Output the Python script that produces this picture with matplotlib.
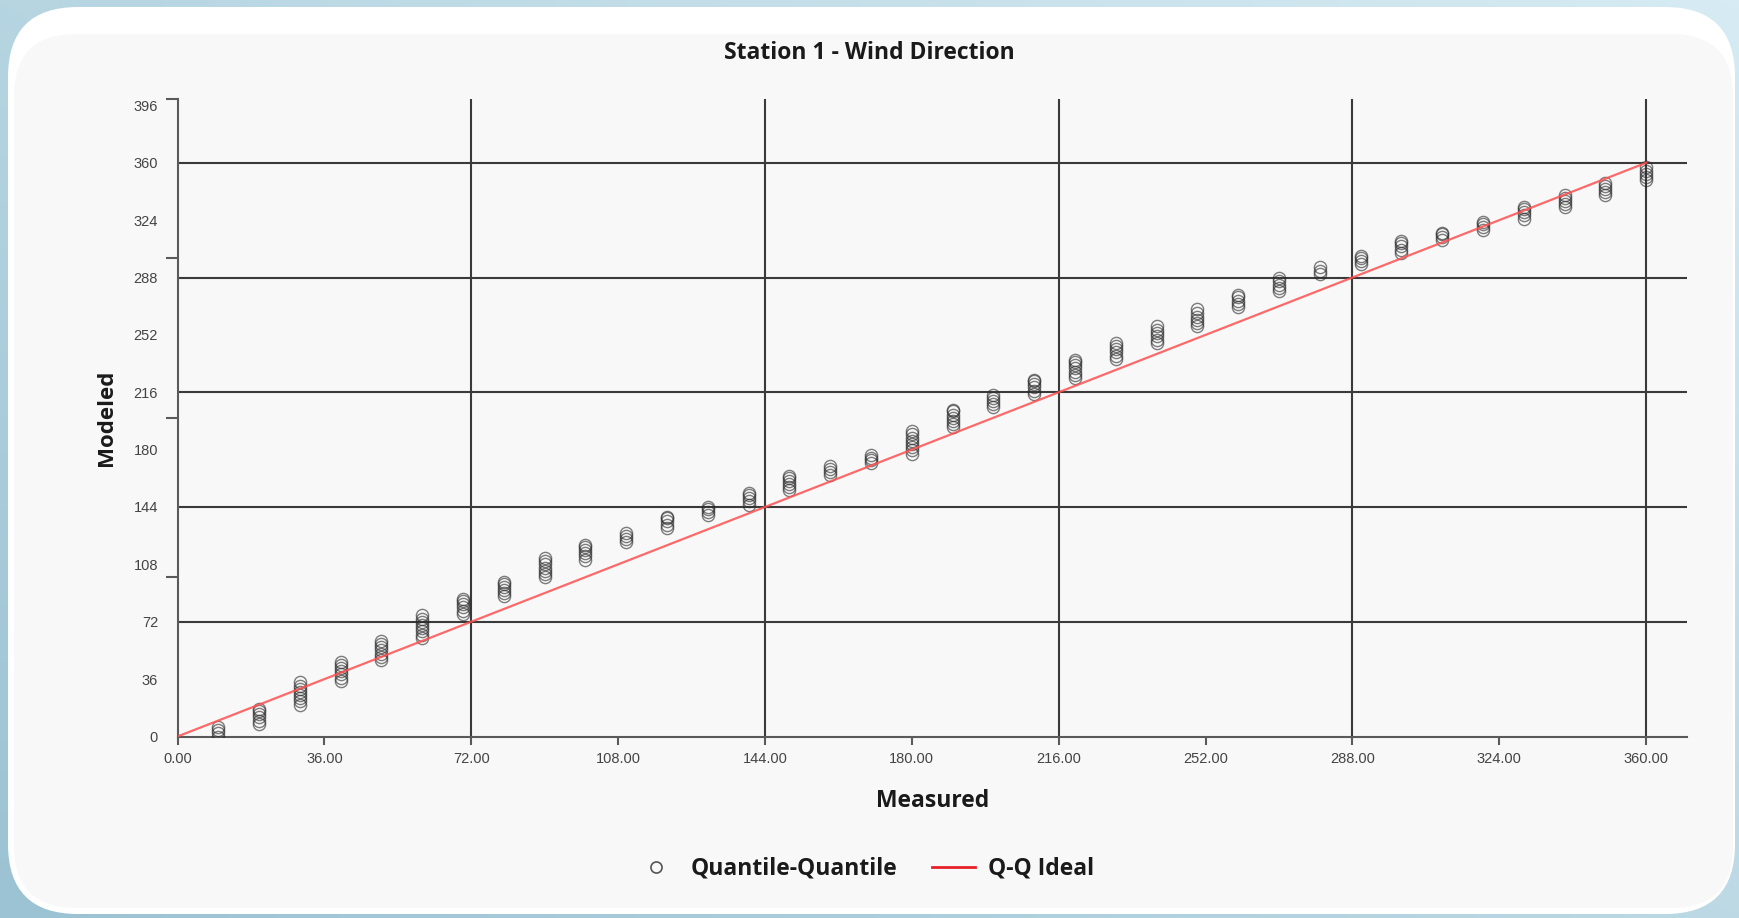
import numpy as np
import matplotlib.pyplot as plt
from matplotlib.patches import FancyBboxPatch
from matplotlib.lines import Line2D
from matplotlib.colors import LinearSegmentedColormap

# measured wind direction bins (deg) and the modeled quantiles that fall in each
measured_bins = [10, 20, 30, 40, 50, 60, 70, 80, 90, 100, 110, 120,
                 130, 140, 150, 160, 170, 180, 190, 200, 210, 220, 230, 240,
                 250, 260, 270, 280, 290, 300, 310, 320, 330, 340, 350, 360]
modeled_quantiles = [
    [0, 2, 4, 6],
    [8, 10, 12, 14, 16, 17.5],
    [20, 22, 24, 26, 28, 30, 32, 34],
    [35, 37, 39, 41, 43, 45, 47],
    [48, 50, 52, 54, 56, 58, 60],
    [62, 64, 66, 68, 70, 72, 74, 76],
    [77, 79, 81, 83, 85, 86],
    [88, 90, 92, 94, 96, 97],
    [100, 102, 104, 106, 108, 110, 112],
    [111, 113, 115, 117, 119, 120],
    [122, 124, 126, 128],
    [131, 133, 135, 137, 138],
    [139, 141, 143, 144],
    [145.5, 147.5, 149.5, 151.5, 153],
    [154.5, 156.5, 158.5, 160.5, 162.5, 163.5],
    [164, 166, 168, 170],
    [171.5, 173.5, 175, 176.5],
    [177.5, 179.5, 181.5, 183.5, 185.5, 187.5, 189.5, 192],
    [194, 196, 198, 200, 202, 204, 205],
    [206.5, 208.5, 210.5, 212.5, 214],
    [215, 217, 219, 221, 223, 224],
    [225, 227, 229, 231, 233, 235, 236.5],
    [237, 239, 241, 243, 245, 247],
    [247, 249, 251, 253, 255, 257.5],
    [257.5, 259.5, 261.5, 263.5, 265.5, 268],
    [269.5, 271.5, 273.5, 275.5, 277],
    [279.5, 281.5, 283.5, 285.5, 288],
    [290, 292, 294.5],
    [296.5, 298.5, 300, 301.5],
    [303.5, 305.5, 307.5, 309.5, 311],
    [311.5, 313.5, 315, 316],
    [317.5, 319.5, 321.5, 323],
    [325, 327, 329, 331, 332],
    [332, 334, 336, 338, 339.5],
    [339.5, 341.5, 343.5, 345.5, 347],
    [349, 351, 353, 355, 357.5],
]
ideal_x = [0, 360]
ideal_y = [0, 360]

x_ticks = list(range(0, 361, 36))
y_ticks = list(range(0, 397, 36))
y_marks = [0, 100, 200, 300, 400]
grid_vals = [72, 144, 216, 288, 360]

W, H = 1739, 918
fig = plt.figure(figsize=(W / 100, H / 100), dpi=100)

# backdrop: blue gradient with a rounded white card
bg = fig.add_axes([0, 0, 1, 1], zorder=-10)
bg.set_xlim(0, W)
bg.set_ylim(0, H)
bg.axis('off')
gx, gy = np.meshgrid(np.linspace(0, 1, 200), np.linspace(0, 1, 200))
shade = 0.55 * gx + 0.45 * (1 - gy)
cmap = LinearSegmentedColormap.from_list('sky', ['#9cc3d3', '#d6ebf3'])
bg.imshow(shade, extent=(0, W, 0, H), origin='upper', cmap=cmap, aspect='auto')
bg.add_patch(FancyBboxPatch((8, 4), W - 12, H - 11,
                            boxstyle="round,pad=0,rounding_size=70",
                            facecolor='white', edgecolor='none'))
bg.add_patch(FancyBboxPatch((14, 10), W - 20, H - 44,
                            boxstyle="round,pad=0,rounding_size=62",
                            facecolor='#f8f8f8', edgecolor='none'))

ax = fig.add_axes([177.5 / W, (H - 736.5) / H, 1509.5 / W, 637.5 / H])
ax.set_facecolor('none')
ax.set_xlim(0, 370)
ax.set_ylim(0, 400)

for v in grid_vals:
    ax.axvline(v, color='#3a3a3a', lw=1.5, zorder=1)
    ax.axhline(v, color='#3a3a3a', lw=1.5, zorder=1)

xs, ys = [], []
for m, qs in zip(measured_bins, modeled_quantiles):
    xs.extend([m] * len(qs))
    ys.extend(qs)
ax.plot(xs, ys, 'o', ls='none', mfc='none', mec='#2a2a2a', ms=8.8, mew=1.0,
        alpha=0.6, zorder=3)
ax.plot(ideal_x, ideal_y, color='#ff5050', lw=1.6, alpha=0.85, zorder=4)

for side in ('top', 'right'):
    ax.spines[side].set_visible(False)
for side in ('left', 'bottom'):
    ax.spines[side].set_color('#5a5a5a')
    ax.spines[side].set_linewidth(1.5)

ax.set_xticks(x_ticks)
ax.set_xticklabels([f"{v:.2f}" for v in x_ticks], family='Liberation Sans')
ax.tick_params(axis='x', length=6, width=1.5, color='#5a5a5a', pad=5,
               labelsize=10.5, labelcolor='#444444')
ax.set_yticks(y_ticks)
ax.set_yticklabels([str(v) for v in y_ticks], family='Liberation Sans')
ax.tick_params(axis='y', length=0, pad=14, labelsize=10.5, labelcolor='#444444')
ax.set_yticks(y_marks, minor=True)
ax.tick_params(axis='y', which='minor', length=9, width=1.5, color='#5a5a5a')

ax.set_xlabel("Measured", fontsize=16.5, fontweight='bold', family='Open Sans',
              labelpad=17, color='#1a1a1a')
ax.set_ylabel("Modeled", fontsize=16, fontweight='bold', family='Open Sans',
              labelpad=12, color='#1a1a1a')

fig.text(0.5, 0.9425, "Station 1 - Wind Direction", ha='center', va='center',
         fontsize=16.5, fontweight='bold', family='Open Sans', color='#1a1a1a')

handles = [
    Line2D([], [], marker='o', ls='none', mfc='none', mec='#555555', ms=8, mew=1.2),
    Line2D([], [], color='#e8202a', lw=2),
]
fig.legend(handles, ["Quantile-Quantile", "Q-Q Ideal"], loc='center',
           bbox_to_anchor=(0.497, 0.0534), ncol=2, frameon=False,
           prop={'family': 'Open Sans', 'weight': 'bold', 'size': 16.5},
           handlelength=1.9, handletextpad=0.55, columnspacing=1.5,
           labelcolor='#1a1a1a')

fig.savefig('out.png', dpi=100)
